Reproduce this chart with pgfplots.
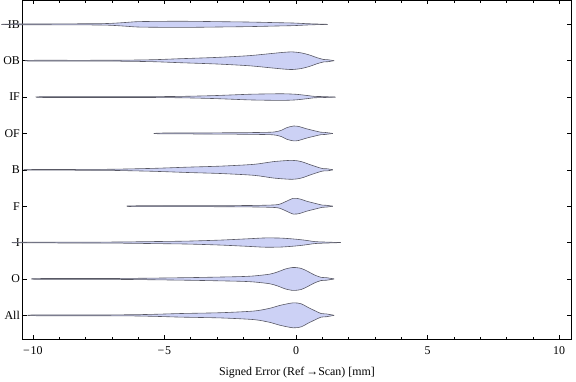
\documentclass[border=0pt]{standalone}
\usepackage{pgfplots}
\pgfplotsset{compat=1.18}
\usepgfplotslibrary{fillbetween}
\usepackage{pgfplotstable}
\usepackage{fontspec}
\setmainfont{Liberation Serif}
\definecolor{vfill}{RGB}{204,209,245}
\definecolor{vedge}{RGB}{88,88,100}

\pgfplotstableread{
x w
-11.2 0
-10.5 0.011
-8.5 0.014
-7.2 0.022
-6.5 0.050
-6.0 0.074
-5.0 0.083
-4.0 0.083
-3.0 0.074
-1.8 0.063
-0.8 0.047
-0.1 0.036
0.45 0.017
1.2 0
}\IBdata
\pgfplotstableread{
x w
-10.3 0
-10.0 0.011
-8.0 0.011
-6.6 0.014
-5.4 0.028
-4.4 0.055
-3.0 0.091
-1.8 0.138
-1.0 0.193
-0.5 0.228
-0.15 0.242
0.2 0.215
0.5 0.160
0.8 0.083
1.05 0.033
1.2 0.028
1.45 0
}\OBdata
\pgfplotstableread{
x w
-9.8 0
-9.5 0.011
-6.0 0.011
-4.4 0.019
-3.1 0.041
-1.8 0.077
-1.0 0.088
-0.5 0.091
0.0 0.077
0.45 0.041
0.7 0.019
1.0 0.014
1.5 0
}\IFdata
\pgfplotstableread{
x w
-5.4 0
-5.1 0.011
-3.8 0.014
-2.0 0.022
-1.0 0.033
-0.75 0.050
-0.55 0.088
-0.35 0.160
-0.1 0.204
0.1 0.193
0.35 0.138
0.65 0.083
0.95 0.033
1.1 0.028
1.4 0
}\OFdata
\pgfplotstableread{
x w
-10.35 0
-10.0 0.008
-8.0 0.011
-6.9 0.017
-5.4 0.041
-4.1 0.074
-2.85 0.102
-1.6 0.151
-0.85 0.226
-0.15 0.261
0.2 0.226
0.55 0.138
0.9 0.055
1.05 0.030
1.2 0.028
1.4 0
}\Bdata
\pgfplotstableread{
x w
-6.4 0
-6.1 0.011
-3.0 0.014
-1.5 0.022
-0.8 0.036
-0.6 0.061
-0.4 0.124
-0.1 0.217
0.15 0.198
0.4 0.138
0.7 0.083
1.0 0.030
1.15 0.025
1.4 0
}\Fdata
\pgfplotstableread{
x w
-10.8 0
-10.4 0.008
-7.1 0.014
-5.4 0.028
-4.1 0.041
-2.85 0.069
-1.8 0.105
-1.2 0.127
-0.6 0.124
-0.1 0.099
0.3 0.069
0.7 0.028
1.0 0.017
1.7 0
}\Idata
\pgfplotstableread{
x w
-10.05 0
-9.7 0.011
-6.6 0.014
-4.1 0.036
-2.2 0.063
-1.6 0.083
-1.0 0.132
-0.7 0.193
-0.4 0.275
-0.1 0.316
0.2 0.289
0.45 0.206
0.7 0.110
0.95 0.044
1.15 0.036
1.45 0
}\Odata
\pgfplotstableread{
x w
-10.2 0
-9.8 0.011
-6.6 0.014
-5.4 0.028
-4.36 0.050
-2.85 0.072
-1.6 0.118
-1.0 0.193
-0.6 0.275
-0.1 0.344
0.2 0.316
0.45 0.220
0.7 0.132
0.95 0.050
1.15 0.039
1.45 0
}\Alldata

\newcommand{\violin}[3]{%
  \addplot[vedge, line width=0.6bp, smooth, tension=0.45, name path=#1u]
    table[x=x, y expr={#3+\thisrow{w}}]{#2};
  \addplot[vedge, line width=0.6bp, smooth, tension=0.45, name path=#1l]
    table[x=x, y expr={#3-\thisrow{w}}]{#2};
  \addplot[vfill] fill between[of=#1u and #1l];
}

\begin{document}
\begin{tikzpicture}
\begin{axis}[
  scale only axis, width=550bp, height=340bp,
  xmin=-10.38, xmax=10.45, ymin=0.342, ymax=9.658,
  clip=false, set layers,
  xtick={-10,-5,0,5,10}, xticklabels={−\kern0.8bp10,−\kern0.8bp5,0,5,10},
  minor xtick={-9,-8,-7,-6,-4,-3,-2,-1,1,2,3,4,6,7,8,9},
  ytick={1,2,3,4,5,6,7,8,9},
  yticklabels={All,O,I,F,B,OF,IF,OB,IB},
  tick align=inside, major tick length=4bp, minor tick length=2.4bp,
  tick style={black, line width=0.6bp},
  axis line style={black, line width=0.8bp},
  ticklabel style={font=\fontsize{12}{14}\selectfont, black},
  xticklabel style={yshift=-4bp},
  yticklabel style={xshift=0.5bp},
  label style={font=\fontsize{12}{14}\selectfont},
  xlabel={Signed Error (Ref\,→Scan) [mm]},
  xlabel style={yshift=-5.5bp},
]
\violin{IB}{\IBdata}{9}
\violin{OB}{\OBdata}{8}
\violin{IF}{\IFdata}{7}
\violin{OF}{\OFdata}{6}
\violin{B}{\Bdata}{5}
\violin{F}{\Fdata}{4}
\violin{I}{\Idata}{3}
\violin{O}{\Odata}{2}
\violin{All}{\Alldata}{1}
\end{axis}
\path (current axis.north east) ++(5bp,0);
\end{tikzpicture}
\end{document}
